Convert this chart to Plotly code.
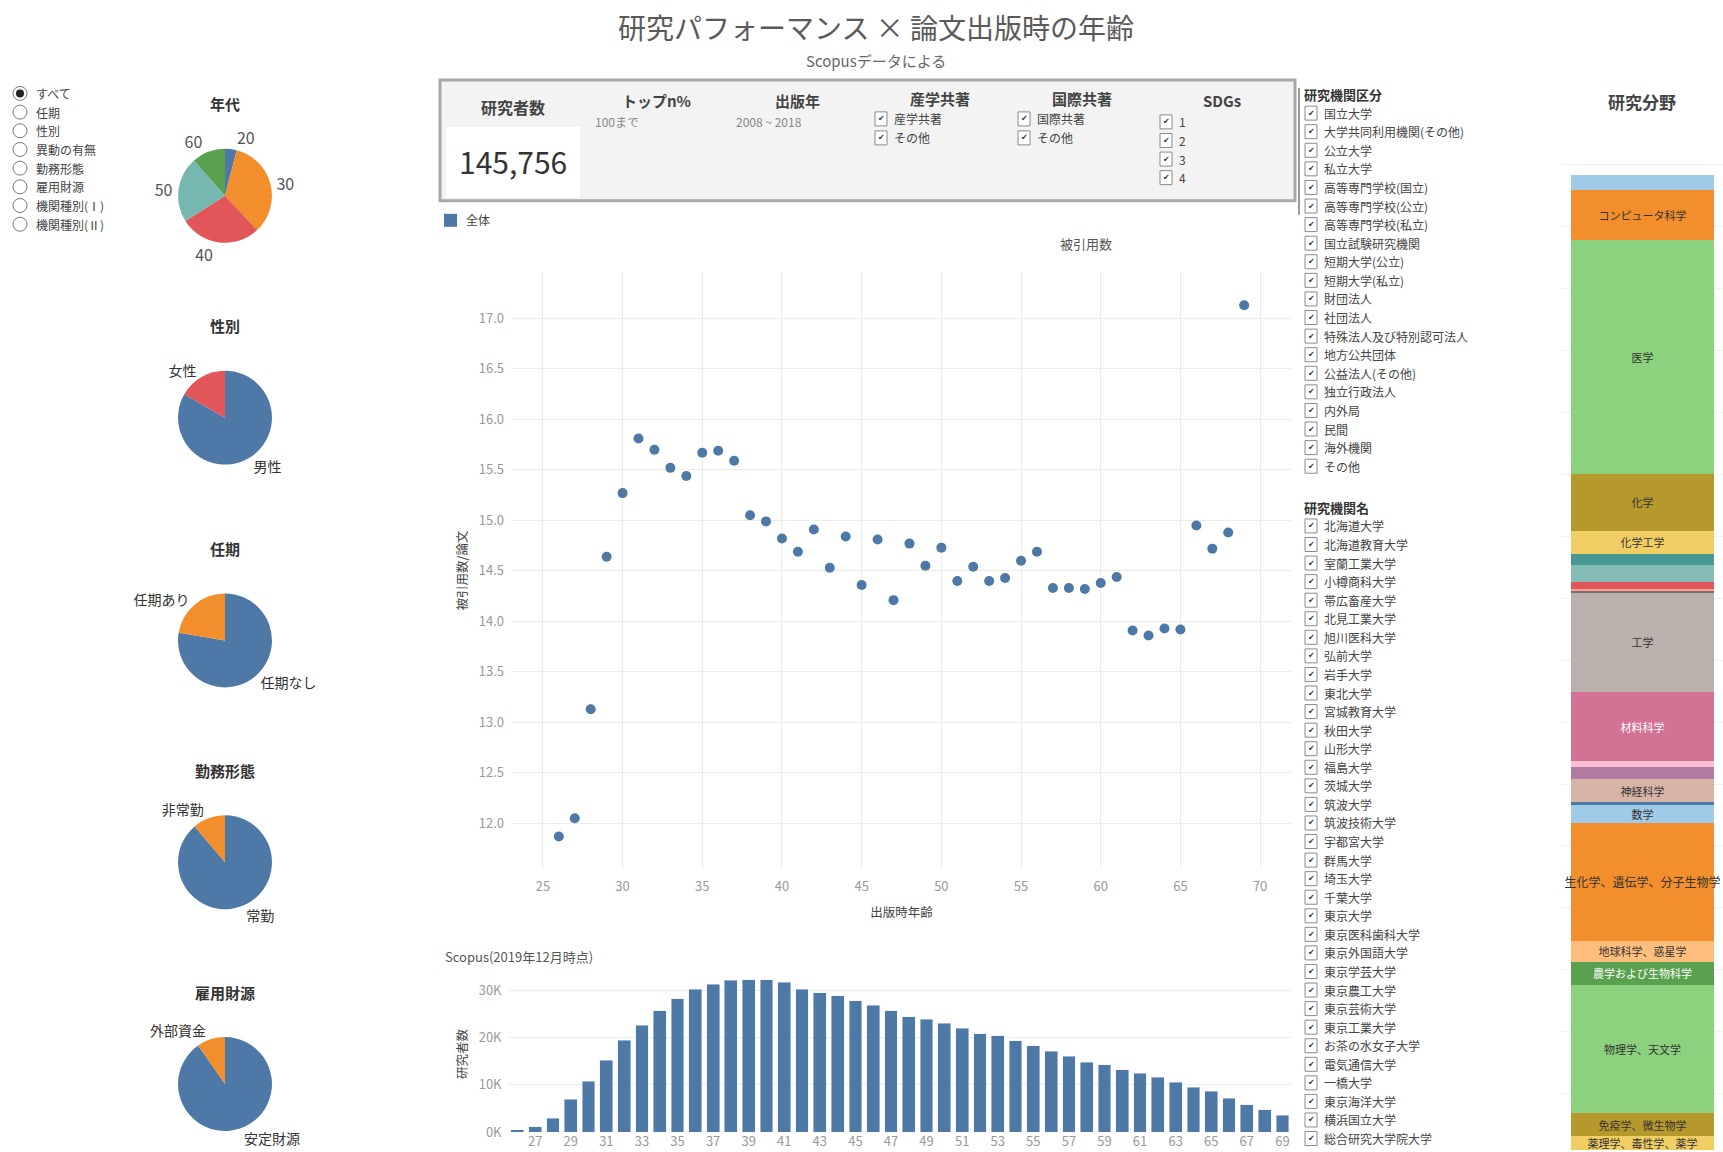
import plotly.graph_objects as go

W, H_REF = 1723, 1152
H = 1160  # the capture squeezes the page slightly in height; paper fractions stay in reference pixels
def fx(x): return x / W
def fy(y): return 1 - y / H_REF

FONT = "Noto Sans CJK JP"

# ---------------- data ----------------
scatter_age = list(range(26, 70))
citations_per_paper = [11.87, 12.05, 13.13, 14.64, 15.27, 15.81, 15.70, 15.52, 15.44, 15.67,
                       15.69, 15.59, 15.05, 14.99, 14.82, 14.69, 14.91, 14.53, 14.84, 14.36,
                       14.81, 14.21, 14.77, 14.55, 14.73, 14.40, 14.54, 14.40, 14.43, 14.60,
                       14.69, 14.33, 14.33, 14.32, 14.38, 14.44, 13.91, 13.86, 13.93, 13.92,
                       14.95, 14.72, 14.88, 17.13]
scatter_xticks = [25, 30, 35, 40, 45, 50, 55, 60, 65, 70]
scatter_yticks = [12.0, 12.5, 13.0, 13.5, 14.0, 14.5, 15.0, 15.5, 16.0, 16.5, 17.0]

bar_age = list(range(26, 70))
researcher_count = [500, 1100, 2900, 6900, 10800, 15200, 19400, 22600, 25700, 28200,
                    30200, 31300, 32100, 32200, 32200, 31700, 30200, 29500, 28800, 27800,
                    26800, 25700, 24400, 23900, 23000, 22000, 20800, 20400, 19300, 18300,
                    17100, 16000, 14800, 14200, 13200, 12400, 11600, 10500, 9500, 8600,
                    7200, 5800, 4700, 3600]
bar_xticks = list(range(27, 70, 2))
bar_yticks = [0, 10000, 20000, 30000]
bar_yticktext = [f"{v // 1000}K" for v in bar_yticks]

age_labels = ["20", "30", "40", "50", "60"]
age_share = [4.0, 34.0, 28.0, 22.5, 11.5]
age_colors = ["#4e79a7", "#f28e2b", "#e15759", "#76b7b2", "#59a14f"]

gender_labels = ["男性", "女性"]
gender_share = [83.3, 16.7]
tenure_labels = ["任期なし", "任期あり"]
tenure_share = [77.6, 22.4]
work_labels = ["常勤", "非常勤"]
work_share = [88.8, 11.2]
fund_labels = ["安定財源", "外部資金"]
fund_share = [90.3, 9.7]

field_names = ["多分野", "コンピュータ科学", "医学", "化学", "化学工学", "環境科学",
               "経済学", "経営学", "決定科学", "エネルギー", "工学", "材料科学", "歯学",
               "社会科学", "神経科学", "心理学", "数学", "生化学、遺伝学、分子生物学",
               "地球科学、惑星学", "農学および生物科学", "物理学、天文学",
               "免疫学、微生物学", "薬理学、毒性学、薬学"]
field_values = [15.5, 49.9, 234.2, 56.8, 23.4, 10.7, 17.3, 7.5, 2.0, 1.8, 98.5, 69.7, 5.3,
                12.3, 23.9, 1.8, 18.3, 117.9, 21.2, 22.9, 128.4, 23.0, 14.0]
field_colors = ["#a0cbe8", "#f28e2b", "#8cd17d", "#b6992d", "#f1ce63", "#499894",
                "#86bcb6", "#e15759", "#ff9d9a", "#79706e", "#bab0ac", "#d37295", "#fabfd2",
                "#b07aa1", "#d7b5a6", "#4e79a7", "#a0cbe8", "#f28e2b", "#ffbe7d",
                "#59a14f", "#8cd17d", "#b6992d", "#f1ce63"]
field_labeled = [False, True, True, True, True, False, False, False, False, False, True, True,
                 False, False, True, False, True, True, True, True, True, True, True]
field_white = ["材料科学", "農学および生物科学"]

radio_items = ["すべて", "任期", "性別", "異動の有無", "勤務形態", "雇用財源", "機関種別(Ⅰ)", "機関種別(Ⅱ)"]
inst_types = ["国立大学", "大学共同利用機関(その他)", "公立大学", "私立大学", "高等専門学校(国立)",
              "高等専門学校(公立)", "高等専門学校(私立)", "国立試験研究機関", "短期大学(公立)",
              "短期大学(私立)", "財団法人", "社団法人", "特殊法人及び特別認可法人", "地方公共団体",
              "公益法人(その他)", "独立行政法人", "内外局", "民間", "海外機関", "その他"]
inst_names = ["北海道大学", "北海道教育大学", "室蘭工業大学", "小樽商科大学", "帯広畜産大学",
              "北見工業大学", "旭川医科大学", "弘前大学", "岩手大学", "東北大学", "宮城教育大学",
              "秋田大学", "山形大学", "福島大学", "茨城大学", "筑波大学", "筑波技術大学",
              "宇都宮大学", "群馬大学", "埼玉大学", "千葉大学", "東京大学", "東京医科歯科大学",
              "東京外国語大学", "東京学芸大学", "東京農工大学", "東京芸術大学", "東京工業大学",
              "お茶の水女子大学", "電気通信大学", "一橋大学", "東京海洋大学", "横浜国立大学",
              "総合研究大学院大学"]
sdg_items = ["1", "2", "3", "4"]

# ---------------- figure ----------------
fig = go.Figure()
shapes, annotations = [], []

def text(x, y, s, size=11, color="#444", anchor="center", bold=False, family=FONT, yanchor="middle"):
    if bold:
        s = f"<b>{s}</b>"
    annotations.append(dict(x=fx(x), y=fy(y), xref="paper", yref="paper", text=s, showarrow=False,
                            xanchor=anchor, yanchor=yanchor,
                            font=dict(family=family, size=size, color=color)))

def checkbox(x, y, label, size=12):
    shapes.append(dict(type="rect", xref="paper", yref="paper", x0=fx(x - 6), x1=fx(x + 6),
                       y0=fy(y + 7), y1=fy(y - 7), line=dict(color="#8a8a8a", width=1),
                       fillcolor="white"))
    text(x, y, "✔", size=8, color="#333", family="DejaVu Sans")
    text(x + 11, y, label, size=size, color="#444", anchor="left")

# scatter
fig.add_trace(go.Scatter(x=scatter_age, y=citations_per_paper, mode="markers",
                         marker=dict(color="#4e79a7", size=10), showlegend=False,
                         xaxis="x", yaxis="y"))
# age histogram
fig.add_trace(go.Bar(x=bar_age, y=researcher_count, marker_color="#4e79a7", width=0.72,
                     showlegend=False, xaxis="x2", yaxis="y2"))
# research field stacked bar
for name, val, col, lab in zip(field_names, field_values, field_colors, field_labeled):
    fig.add_trace(go.Bar(x=["研究分野"], y=[val], name=name, marker=dict(color=col, line=dict(width=0)),
                         text=[name if lab else ""], textposition="inside",
                         insidetextanchor="middle", textangle=0, constraintext="none",
                         textfont=dict(family=FONT, size=12 if len(name) > 10 else 11,
                                       color="white" if name in field_white else "#333"),
                         width=0.888, showlegend=False, xaxis="x3", yaxis="y3",
                         cliponaxis=False))

# pies
pie_specs = [
    ("年代", age_labels, age_share, age_colors, 196),
    ("性別", gender_labels, gender_share, ["#4e79a7", "#e15759"], 418),
    ("任期", tenure_labels, tenure_share, ["#4e79a7", "#f28e2b"], 641),
    ("勤務形態", work_labels, work_share, ["#4e79a7", "#f28e2b"], 863),
    ("雇用財源", fund_labels, fund_share, ["#4e79a7", "#f28e2b"], 1085),
]
R = 47
CX = 225
for title, labs, vals, cols, cy in pie_specs:
    fig.add_trace(go.Pie(labels=labs, values=vals, sort=False, direction="clockwise", rotation=0,
                         marker=dict(colors=cols, line=dict(width=0)),
                         textinfo="label", textposition="outside",
                         textfont=dict(family=FONT, size=16 if title == "年代" else 14,
                                       color="#555" if title == "年代" else "#333"),
                         domain=dict(x=[fx(CX - R), fx(CX + R)], y=[fy(cy + R), fy(cy - R)]),
                         showlegend=False, hoverinfo="label+percent"))
    text(CX, cy - 92, title, size=15, color="#333", bold=True)

# titles
text(876, 27, "研究パフォーマンス × 論文出版時の年齢", size=28, color="#5a5a5a")
text(876, 61, "Scopusデータによる", size=15, color="#666")

# radio list
for i, item in enumerate(radio_items):
    y = 93.5 + i * 18.7
    shapes.append(dict(type="circle", xref="paper", yref="paper", x0=fx(13), x1=fx(27),
                       y0=fy(y + 7), y1=fy(y - 7), line=dict(color="#777", width=1),
                       fillcolor="white"))
    if i == 0:
        shapes.append(dict(type="circle", xref="paper", yref="paper", x0=fx(16), x1=fx(24),
                           y0=fy(y + 4), y1=fy(y - 4), line=dict(width=0), fillcolor="#222"))
    text(34, y, item, size=12, color="#444", anchor="left")

# header filter box
shapes.append(dict(type="rect", xref="paper", yref="paper", x0=fx(440), x1=fx(1295),
                   y0=fy(201), y1=fy(80), line=dict(color="#a8a8a8", width=3),
                   fillcolor="#f3f3f3", layer="below"))
shapes.append(dict(type="rect", xref="paper", yref="paper", x0=fx(446), x1=fx(580),
                   y0=fy(198), y1=fy(127), line=dict(width=0), fillcolor="white", layer="below"))
text(513, 107, "研究者数", size=16, color="#444", bold=True)
text(513, 161, "145,756", size=30, color="#333")
text(656, 101, "トップn%", size=15, color="#444", bold=True)
text(593, 122, "100まで", size=12, color="#888", anchor="left")
text(797, 101, "出版年", size=15, color="#444", bold=True)
text(734, 122, "2008 ~ 2018", size=12, color="#888", anchor="left")
text(940, 99, "産学共著", size=15, color="#444", bold=True)
checkbox(881, 119, "産学共著", size=12)
checkbox(881, 138, "その他", size=12)
text(1082, 99, "国際共著", size=15, color="#444", bold=True)
checkbox(1024, 119, "国際共著", size=12)
checkbox(1024, 138, "その他", size=12)
text(1222, 101, "SDGs", size=15, color="#444", bold=True)
for i, s in enumerate(sdg_items):
    checkbox(1166, 122 + i * 18.6, s, size=12)

# legend & captions
shapes.append(dict(type="rect", xref="paper", yref="paper", x0=fx(444), x1=fx(457),
                   y0=fy(227), y1=fy(214), line=dict(width=0), fillcolor="#4e79a7"))
text(464, 220, "全体", size=12, color="#444", anchor="left")
text(1086, 244, "被引用数", size=13, color="#555")
text(443, 957, "Scopus(2019年12月時点)", size=13, color="#555", anchor="left")

# right checklists
shapes.append(dict(type="line", xref="paper", yref="paper", x0=fx(1299), x1=fx(1299),
                   y0=fy(88), y1=fy(215), line=dict(color="#999", width=2)))
text(1302, 95, "研究機関区分", size=13, color="#333", anchor="left", bold=True)
for i, s in enumerate(inst_types):
    checkbox(1311, 113.2 + i * 18.6, s)
text(1302, 508, "研究機関名", size=13, color="#333", anchor="left", bold=True)
for i, s in enumerate(inst_names):
    checkbox(1311, 526.4 + i * 18.58, s)

text(1642, 102, "研究分野", size=17, color="#444", bold=True)

axis_font = dict(family=FONT, size=13, color="#999")
title_font = dict(family=FONT, size=12.5, color="#444")

fig.update_layout(
    width=W, height=H, margin=dict(l=0, r=0, t=0, b=0),
    paper_bgcolor="white", plot_bgcolor="white",
    font=dict(family=FONT, color="#444"),
    barmode="stack",
    shapes=shapes, annotations=annotations,
    xaxis=dict(domain=[fx(511), fx(1292)], range=[23, 72], tickvals=scatter_xticks,
               showgrid=True, gridcolor="#ececec", zeroline=False, showline=False,
               tickfont=axis_font, ticklabelstandoff=8, anchor="y",
               title=dict(text="出版時年齢", font=title_font, standoff=14)),
    yaxis=dict(domain=[fy(870), fy(272)], range=[11.545, 17.462], tickvals=scatter_yticks,
               tickformat=".1f", showgrid=True, gridcolor="#ececec", zeroline=False,
               showline=False, tickfont=axis_font, ticklabelstandoff=6, anchor="x",
               title=dict(text="被引用数/論文", font=title_font, standoff=8)),
    xaxis2=dict(domain=[fx(508.5), fx(1291.3)], range=[25.5, 69.5], tickvals=bar_xticks,
                showgrid=False, zeroline=False, showline=False, tickfont=axis_font,
                anchor="y2"),
    yaxis2=dict(domain=[fy(1133), fy(977)], range=[0, 33000], tickvals=bar_yticks,
                ticktext=bar_yticktext, showgrid=True, gridcolor="#ececec", zeroline=False,
                showline=False, tickfont=axis_font, ticklabelstandoff=6, anchor="x2",
                title=dict(text="研究者数", font=title_font, standoff=8)),
    xaxis3=dict(domain=[fx(1562), fx(1723)], range=[-0.5, 0.5], visible=False, anchor="y3"),
    yaxis3=dict(domain=[0, fy(150)], range=[1152 - 174.7, -24.7],
                showticklabels=False, showgrid=True, gridcolor="#f1f1f1", tick0=-10, dtick=62,
                zeroline=False, showline=False, anchor="x3"),
)

fig.write_html("out.html", config={"displayModeBar": False},
               post_script="document.body.style.margin='0';document.body.style.overflow='hidden';")
